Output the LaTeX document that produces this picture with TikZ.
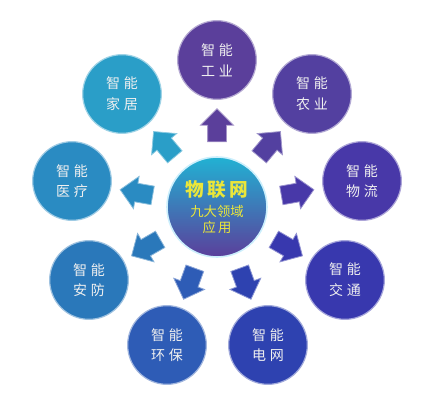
\documentclass[tikz,border=0pt]{standalone}
\usepackage{fontspec}
\newfontfamily\cjk{Noto Sans CJK SC}
\usetikzlibrary{shapes.arrows,calc}
\definecolor{gongye}{HTML}{5B3F9B}
\definecolor{nongye}{HTML}{5340A0}
\definecolor{wuliu}{HTML}{4838A8}
\definecolor{jiaotong}{HTML}{3838AE}
\definecolor{dianwang}{HTML}{2E42B0}
\definecolor{huanbao}{HTML}{2E5CB6}
\definecolor{anfang}{HTML}{2A78BA}
\definecolor{yiliao}{HTML}{2A8BC2}
\definecolor{jiaju}{HTML}{2A9EC8}
\definecolor{hubtext}{HTML}{EAE63A}
\tikzset{
	field/.style={
		circle, minimum size=59pt, inner sep=0pt, align=center,
		fill=#1, draw=#1!45!white, line width=0.9pt,
		text=white!94!black, font=\cjk\fontsize{10.5}{15.5}\selectfont},
	bigarrow/.style={
		single arrow, single arrow head extend=5.25pt,
		minimum width=24pt, minimum height=24.75pt, inner sep=0pt,
		fill=#1, draw=#1!55!white, line width=0.6pt,
		node contents={\rule{0pt}{13.5pt}}}
}

\begin{document}
\begin{tikzpicture}[x=0.75pt,y=0.75pt,yscale=-1,xscale=1]
\useasboundingbox (0,0) rectangle (438,409);

% hub
\node[circle, minimum size=75pt, inner sep=0pt, align=center,
	shade, shading angle=45, top color=jiaju!80!cyan, middle color=dianwang!90!cyan, bottom color=gongye,
	draw=white!80!cyan, line width=1.2pt, text=hubtext] (hub) at (217,207)
	{{\cjk\fontsize{14}{16}\selectfont\bfseries 物\,联\,网}\\[3pt]
	 {\cjk\fontsize{10}{14}\selectfont 九大领域}\\
	 {\cjk\fontsize{10}{14}\selectfont 应\,用}};

% fields
\node[field=gongye] (gy) at (217,60) {智\hspace{3pt}能\\工\hspace{3pt}业};
\node[field=nongye] (ny) at (312,94) {智\hspace{3pt}能\\农\hspace{3pt}业};
\node[field=wuliu] (wl) at (362,181) {智\hspace{3pt}能\\物\hspace{3pt}流};
\node[field=jiaotong] (jt) at (345,280) {智\hspace{3pt}能\\交\hspace{3pt}通};
\node[field=dianwang] (dw) at (268,345) {智\hspace{3pt}能\\电\hspace{3pt}网};
\node[field=huanbao] (hb) at (167,345) {智\hspace{3pt}能\\环\hspace{3pt}保};
\node[field=anfang] (af) at (89,280) {智\hspace{3pt}能\\安\hspace{3pt}防};
\node[field=yiliao] (yl) at (72,181) {智\hspace{3pt}能\\医\hspace{3pt}疗};
\node[field=jiaju] (jj) at (122,94) {智\hspace{3pt}能\\家\hspace{3pt}居};

% arrows
\node (agy) at ($(hub)!0.524!(gy)$) [bigarrow=gongye, rotate=90];
\node (any) at ($(hub)!0.524!(ny)$) [bigarrow=nongye, rotate=50];
\node (awl) at ($(hub)!0.524!(wl)$) [bigarrow=wuliu, rotate=10];
\node (ajt) at ($(hub)!0.524!(jt)$) [bigarrow=jiaotong, rotate=-30];
\node (adw) at ($(hub)!0.524!(dw)$) [bigarrow=dianwang, rotate=-70];
\node (ahb) at ($(hub)!0.524!(hb)$) [bigarrow=huanbao, rotate=-110];
\node (aaf) at ($(hub)!0.524!(af)$) [bigarrow=anfang, rotate=-150];
\node (ayl) at ($(hub)!0.524!(yl)$) [bigarrow=yiliao, rotate=170];
\node (ajj) at ($(hub)!0.524!(jj)$) [bigarrow=jiaju, rotate=130];

\end{tikzpicture}
\end{document}
